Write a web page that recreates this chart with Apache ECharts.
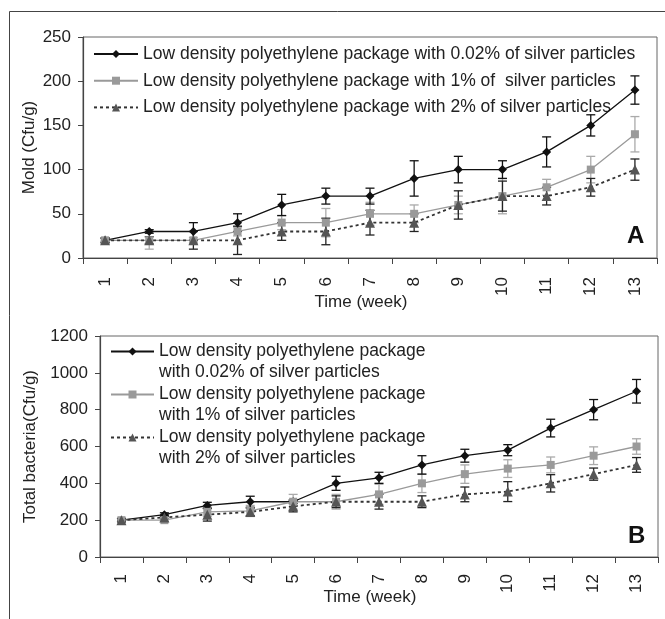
<!DOCTYPE html>
<html>
<head>
<meta charset="utf-8">
<script src="https://cdn.jsdelivr.net/npm/echarts@6/dist/echarts.min.js"></script>
<style>html,body{margin:0;padding:0;background:#fff;}#c{width:665px;height:619px;}</style>
</head>
<body>
<div id="c"></div>
<script>
var weeks = ['1','2','3','4','5','6','7','8','9','10','11','12','13'];

var namesA = [
  'Low density polyethylene package with 0.02% of silver particles',
  'Low density polyethylene package with 1% of  silver particles',
  'Low density polyethylene package with 2% of silver particles'
];
var namesB = [
  'Low density polyethylene package\nwith 0.02% of silver particles',
  'Low density polyethylene package\nwith 1% of silver particles',
  'Low density polyethylene package\nwith 2% of silver particles'
];

// Panel A: Mold (Cfu/g)
var moldS1 = [20, 30, 30, 40, 60, 70, 70, 90, 100, 100, 120, 150, 190];
var moldS1Err = [3, 2, 10, 10, 12, 9, 9, 20, 15, 10, 17, 12, 16];
var moldS2 = [20, 20, 20, 30, 40, 40, 50, 50, 60, 70, 80, 100, 140];
var moldS2Err = [2, 10, 3, 5, 8, 16, 13, 10, 10, 20, 9, 15, 20];
var moldS3 = [20, 20, 20, 20, 30, 30, 40, 40, 60, 70, 70, 80, 100];
var moldS3Err = [2, 4, 10, 16, 10, 15, 14, 10, 16, 17, 10, 10, 12];

// Panel B: Total bacteria (Cfu/g)
var bactS1 = [200, 230, 280, 300, 300, 400, 430, 500, 550, 580, 700, 800, 900];
var bactS1Err = [10, 10, 17, 30, 10, 38, 30, 50, 35, 30, 48, 55, 64];
var bactS2 = [200, 200, 245, 250, 300, 300, 340, 400, 450, 480, 500, 550, 600];
var bactS2Err = [8, 8, 25, 30, 40, 40, 55, 50, 50, 48, 43, 48, 42];
var bactS3 = [200, 215, 230, 245, 275, 300, 300, 300, 340, 355, 400, 450, 500];
var bactS3Err = [8, 10, 35, 20, 30, 32, 40, 32, 40, 54, 47, 33, 40];

var FONT = 'Liberation Sans, Arial, sans-serif';

function errData(vals, errs) {
  return vals.map(function (v, i) { return [i, v - errs[i], v + errs[i]]; });
}
function errRender(color) {
  return function (params, api) {
    var x = api.value(0), lo = api.value(1), hi = api.value(2);
    var p1 = api.coord([x, hi]), p2 = api.coord([x, lo]);
    var w = 4.5;
    var st = { stroke: color, lineWidth: 1.3, fill: null };
    return {
      type: 'group',
      children: [
        { type: 'line', shape: { x1: p1[0], y1: p1[1], x2: p2[0], y2: p2[1] }, style: st },
        { type: 'line', shape: { x1: p1[0] - w, y1: p1[1], x2: p1[0] + w, y2: p1[1] }, style: st },
        { type: 'line', shape: { x1: p2[0] - w, y1: p2[1], x2: p2[0] + w, y2: p2[1] }, style: st }
      ]
    };
  };
}

var C1 = '#111', C2 = '#9a9a9a', C3 = '#333', M3 = '#555';

function lineSeries(name, data, idx, kind) {
  var s = {
    name: name, type: 'line', data: data, xAxisIndex: idx, yAxisIndex: idx,
    showSymbol: true, z: 5
  };
  if (kind === 1) {
    s.symbol = 'diamond'; s.symbolSize = 9;
    s.itemStyle = { color: C1 }; s.lineStyle = { color: C1, width: 1.3 };
  } else if (kind === 2) {
    s.symbol = 'rect'; s.symbolSize = 8;
    s.itemStyle = { color: C2 }; s.lineStyle = { color: C2, width: 1.3 };
  } else {
    s.symbol = 'triangle'; s.symbolSize = 10;
    s.itemStyle = { color: M3 }; s.lineStyle = { color: C3, width: 1.8, type: [3, 3] };
  }
  return s;
}
function errSeries(vals, errs, idx, color) {
  return {
    type: 'custom', xAxisIndex: idx, yAxisIndex: idx, z: 4,
    renderItem: errRender(color), data: errData(vals, errs),
    encode: { x: 0, y: [1, 2] }, silent: true
  };
}

function xAxis(gridIdx, name, nameGap, margin) {
  return {
    type: 'category', data: weeks, gridIndex: gridIdx, boundaryGap: true,
    name: name, nameLocation: 'middle', nameGap: nameGap, nameMoveOverlap: false,
    nameTextStyle: { fontFamily: FONT, fontSize: 17, color: '#222', padding: [0, 18, 0, 0] },
    axisLine: { lineStyle: { color: '#444', width: 1.2 } },
    axisTick: { show: true, length: 6, alignWithLabel: false, lineStyle: { color: '#444' } },
    axisLabel: { rotate: 90, margin: margin, fontFamily: FONT, fontSize: 17, color: '#222' },
    splitLine: { show: false }
  };
}
function yAxis(gridIdx, max, interval, name, nameGap) {
  return {
    type: 'value', gridIndex: gridIdx, min: 0, max: max, interval: interval,
    name: name, nameLocation: 'middle', nameGap: nameGap, nameMoveOverlap: false,
    nameTextStyle: { fontFamily: FONT, fontSize: 17, color: '#222' },
    axisLine: { show: true, lineStyle: { color: '#444', width: 1.2 } },
    axisTick: { show: true, length: 5, lineStyle: { color: '#444' } },
    axisLabel: {
      margin: 12, fontFamily: FONT, fontSize: 17, color: '#222',
      formatter: function (v) { return String(v); }
    },
    splitLine: { show: false }
  };
}

var chart = echarts.init(document.getElementById('c'), null, { renderer: 'canvas' });
var option = {
  animation: false,
  backgroundColor: '#fff',
  grid: [
    { left: 83, top: 37, width: 574, height: 221, show: true, borderColor: '#666', borderWidth: 1, backgroundColor: '#fff' },
    { left: 100, top: 336, width: 558, height: 221, show: true, borderColor: '#666', borderWidth: 1, backgroundColor: '#fff' }
  ],
  xAxis: [
    xAxis(0, 'Time (week)', 36, 19),
    xAxis(1, 'Time (week)', 31.5, 17)
  ],
  yAxis: [
    yAxis(0, 250, 50, 'Mold (Cfu/g)', 45.5),
    yAxis(1, 1200, 200, 'Total bacteria(Cfu/g)', 61.5)
  ],
  legend: [
    {
      data: namesA, orient: 'vertical', left: 93, top: 44, padding: 0,
      itemWidth: 44, itemHeight: 10, itemGap: 6.7,
      textStyle: { fontFamily: FONT, fontSize: 17.5, color: '#222', lineHeight: 20 }
    },
    {
      data: namesB, orient: 'vertical', left: 110, top: 320, padding: 0,
      itemWidth: 43, itemHeight: 10, itemGap: -20,
      formatter: function (name) { return '\u00a0\n' + name; },
      textStyle: { fontFamily: FONT, fontSize: 17.5, color: '#222', lineHeight: 21 }
    }
  ],
  graphic: [
    { type: 'line', shape: { x1: 9.5, y1: 11.5, x2: 665, y2: 11.5 }, style: { stroke: '#444', lineWidth: 1 } },
    { type: 'line', shape: { x1: 9.5, y1: 11.5, x2: 9.5, y2: 619 }, style: { stroke: '#444', lineWidth: 1 } },
    { type: 'text', left: 627, top: 224, style: { text: 'A', font: 'bold 24px ' + FONT, fill: '#111' } },
    { type: 'text', left: 628, top: 524, style: { text: 'B', font: 'bold 24px ' + FONT, fill: '#111' } }
  ],
  series: [
    errSeries(moldS2, moldS2Err, 0, '#aaa'),
    errSeries(moldS3, moldS3Err, 0, '#222'),
    errSeries(moldS1, moldS1Err, 0, '#111'),
    lineSeries(namesA[0], moldS1, 0, 1),
    lineSeries(namesA[1], moldS2, 0, 2),
    lineSeries(namesA[2], moldS3, 0, 3),
    errSeries(bactS2, bactS2Err, 1, '#aaa'),
    errSeries(bactS3, bactS3Err, 1, '#222'),
    errSeries(bactS1, bactS1Err, 1, '#111'),
    lineSeries(namesB[0], bactS1, 1, 1),
    lineSeries(namesB[1], bactS2, 1, 2),
    lineSeries(namesB[2], bactS3, 1, 3)
  ]
};
chart.setOption(option);
</script>
</body>
</html>
